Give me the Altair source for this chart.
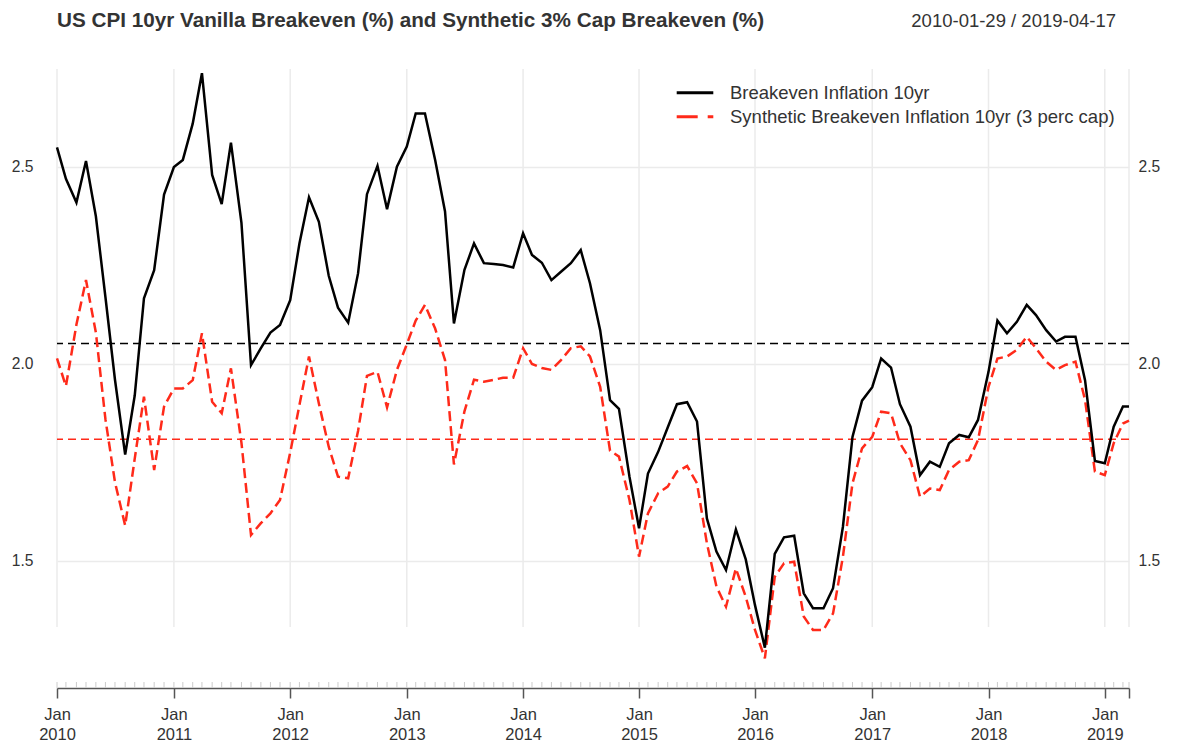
import altair as alt
import pandas as pd

title_text = "US CPI 10yr Vanilla Breakeven (%) and Synthetic 3% Cap Breakeven (%)"
range_text = "2010-01-29 / 2019-04-17"
series_names = ["Breakeven Inflation 10yr", "Synthetic Breakeven Inflation 10yr (3 perc cap)"]

try:
    month_ends = pd.date_range("2010-01-01", "2019-03-31", freq="BME")
except ValueError:
    month_ends = pd.date_range("2010-01-01", "2019-03-31", freq="BM")
dates = [d.strftime("%Y-%m-%d") for d in month_ends] + ["2019-04-17"]

breakeven = [
    2.55, 2.47, 2.41, 2.515, 2.375, 2.17, 1.96, 1.77, 1.92, 2.167, 2.238, 2.43,
    2.50, 2.518, 2.61, 2.738, 2.48, 2.406, 2.562, 2.358, 1.997, 2.04, 2.08, 2.099,
    2.162, 2.306, 2.423, 2.361, 2.224, 2.143, 2.105, 2.23, 2.431, 2.503, 2.393, 2.501,
    2.552, 2.636, 2.636, 2.518, 2.387, 2.103, 2.239, 2.306, 2.256, 2.254, 2.251, 2.245,
    2.332, 2.277, 2.257, 2.213, 2.234, 2.256, 2.289, 2.205, 2.086, 1.908, 1.886, 1.714,
    1.583, 1.722, 1.777, 1.839, 1.898, 1.903, 1.854, 1.608, 1.524, 1.477, 1.58, 1.504,
    1.388, 1.28, 1.518, 1.56, 1.564, 1.418, 1.38, 1.38, 1.431, 1.587, 1.815, 1.907,
    1.941, 2.014, 1.991, 1.898, 1.841, 1.718, 1.752, 1.739, 1.799, 1.82, 1.814, 1.858,
    1.98, 2.11, 2.078, 2.107, 2.15, 2.124, 2.086, 2.057, 2.069, 2.069, 1.959, 1.754,
    1.748, 1.841, 1.892, 1.892,
]
synthetic = [
    2.014, 1.944, 2.10, 2.213, 2.08, 1.86, 1.70, 1.59, 1.76, 1.917, 1.731, 1.892,
    1.938, 1.938, 1.959, 2.078, 1.904, 1.875, 1.989, 1.80, 1.566, 1.596, 1.621, 1.655,
    1.775, 1.896, 2.019, 1.90, 1.79, 1.714, 1.71, 1.83, 1.97, 1.98, 1.89, 1.985,
    2.05, 2.11, 2.15, 2.09, 2.01, 1.745, 1.88, 1.96, 1.955, 1.96, 1.965, 1.965,
    2.04, 2.0, 1.99, 1.985, 2.01, 2.04, 2.045, 2.019, 1.942, 1.78, 1.765, 1.655,
    1.511, 1.621, 1.672, 1.689, 1.727, 1.741, 1.697, 1.545, 1.435, 1.384, 1.481, 1.409,
    1.325, 1.253, 1.46, 1.494, 1.498, 1.359, 1.325, 1.325, 1.367, 1.511, 1.697, 1.786,
    1.815, 1.879, 1.875, 1.799, 1.756, 1.663, 1.684, 1.68, 1.731, 1.752, 1.756, 1.807,
    1.942, 2.014, 2.019, 2.036, 2.069, 2.04, 2.006, 1.985, 1.997, 2.006, 1.909, 1.727,
    1.718, 1.799, 1.849, 1.856,
]
mean_levels = [2.052, 1.809]
y_ticks = [1.5, 2.0, 2.5]

BLACK = "#000000"
RED = "#ff2a1a"
TEXT = "#333333"
GRID = "#ebebeb"
FONT = "Liberation Sans"

W, H = 1072, 628


def ms(d):
    return int(pd.Timestamp(d, tz="UTC").timestamp() * 1000)


# axis ticks: first observation of each year plus the last observation
years_seen = set()
tick_dates = []
for d in dates:
    y = d[:4]
    if y not in years_seen:
        years_seen.add(y)
        tick_dates.append(d)
tick_dates.append(dates[-1])
tick_ms = [ms(d) for d in tick_dates]
last_ms = ms(dates[-1])

x_scale = alt.Scale(type="utc", domain=[ms(dates[0]), last_ms])
y_scale = alt.Scale(domain=[1.17766, 2.77157], nice=False, zero=False)

df_b = pd.DataFrame({"date": dates, "value": breakeven})
df_s = pd.DataFrame({"date": dates, "value": synthetic})
df_ticks = pd.DataFrame({"date": tick_dates})
df_minor = pd.DataFrame({"date": dates})
df_mean_b = pd.DataFrame({"value": [mean_levels[0]]})
df_mean_s = pd.DataFrame({"value": [mean_levels[1]]})

x_axis = alt.Axis(
    values=tick_ms,
    labelExpr=f"datum.value >= {last_ms} ? '' : [utcFormat(datum.value, '%b'), utcFormat(datum.value, '%Y')]",
    tickSize=10, tickColor="#555555", tickWidth=1.5,
    domainColor="#555555", domainWidth=1.5,
    labelFontSize=16.5, labelColor=TEXT, labelPadding=8, labelLineHeight=20,
    labelFlush=False, labelOverlap=False, grid=False, title=None,
)
X = alt.X("date:T", scale=x_scale, axis=x_axis)

vgrid = alt.Chart(df_ticks).mark_rule(color=GRID, strokeWidth=1.5).encode(
    x=X, y=alt.value(9), y2=alt.value(567),
)

minor = alt.Chart(df_minor).mark_rule(color="#cccccc", strokeWidth=1).encode(
    x=X, y=alt.value(H - 6), y2=alt.value(H),
)

line_b = alt.Chart(df_b).mark_line(color=BLACK, strokeWidth=2.5).encode(
    x=X,
    y=alt.Y("value:Q", scale=y_scale, axis=alt.Axis(
        values=y_ticks, format=".1f", orient="left", tickSize=0, domain=False,
        grid=True, gridColor=GRID, gridWidth=1.5, labelPadding=24,
        labelFontSize=15.6, labelColor=TEXT, title=None)),
)

line_s = alt.Chart(df_s).mark_line(color=RED, strokeWidth=2.5, strokeDash=[10, 5]).encode(
    x=X,
    y=alt.Y("value:Q", scale=y_scale, axis=alt.Axis(
        values=y_ticks, format=".1f", orient="right", tickSize=0, domain=False,
        grid=False, labelPadding=9, labelFontSize=15.6, labelColor=TEXT, title=None)),
)

mean_b = alt.Chart(df_mean_b).mark_rule(color=BLACK, strokeWidth=1.3, strokeDash=[8, 5]).encode(
    y=alt.Y("value:Q", scale=y_scale, axis=None))
mean_s = alt.Chart(df_mean_s).mark_rule(color=RED, strokeWidth=1.3, strokeDash=[8, 5]).encode(
    y=alt.Y("value:Q", scale=y_scale, axis=None))

one = pd.DataFrame({"k": [0]})
leg_line_b = alt.Chart(one).mark_rule(color=BLACK, strokeWidth=3).encode(
    x=alt.value(619.7), x2=alt.value(656.3), y=alt.value(32.7))
leg_line_s = alt.Chart(one).mark_rule(color=RED, strokeWidth=3, strokeDash=[21, 10]).encode(
    x=alt.value(619.7), x2=alt.value(656.3), y=alt.value(56.7))
leg_text_b = alt.Chart(pd.DataFrame({"t": [series_names[0]]})).mark_text(
    align="left", baseline="middle", fontSize=18.5, color=TEXT, font=FONT).encode(
    x=alt.value(673), y=alt.value(32.7), text="t:N")
leg_text_s = alt.Chart(pd.DataFrame({"t": [series_names[1]]})).mark_text(
    align="left", baseline="middle", fontSize=18.5, color=TEXT, font=FONT).encode(
    x=alt.value(673), y=alt.value(56.7), text="t:N")

title_mark = alt.Chart(pd.DataFrame({"t": [title_text]})).mark_text(
    align="left", baseline="middle", fontSize=20.7, fontWeight="bold", color=TEXT, font=FONT).encode(
    x=alt.value(0), y=alt.value(-39.5), text="t:N")
range_mark = alt.Chart(pd.DataFrame({"t": [range_text]})).mark_text(
    align="right", baseline="middle", fontSize=18.5, color=TEXT, font=FONT).encode(
    x=alt.value(1059), y=alt.value(-39.5), text="t:N")

chart = alt.layer(
    vgrid, minor, mean_b, mean_s, line_s, line_b,
    leg_line_b, leg_line_s, leg_text_b, leg_text_s, title_mark, range_mark,
).resolve_axis(y="independent").properties(
    width=W, height=H,
    autosize=alt.AutoSizeParams(type="none"),
    padding={"left": 49, "top": 52, "right": 40, "bottom": 55},
).configure(font=FONT).configure_view(stroke=None).configure_axis(labelFont=FONT)

chart.save("out.html", embed_options={"renderer": "svg", "actions": False})
